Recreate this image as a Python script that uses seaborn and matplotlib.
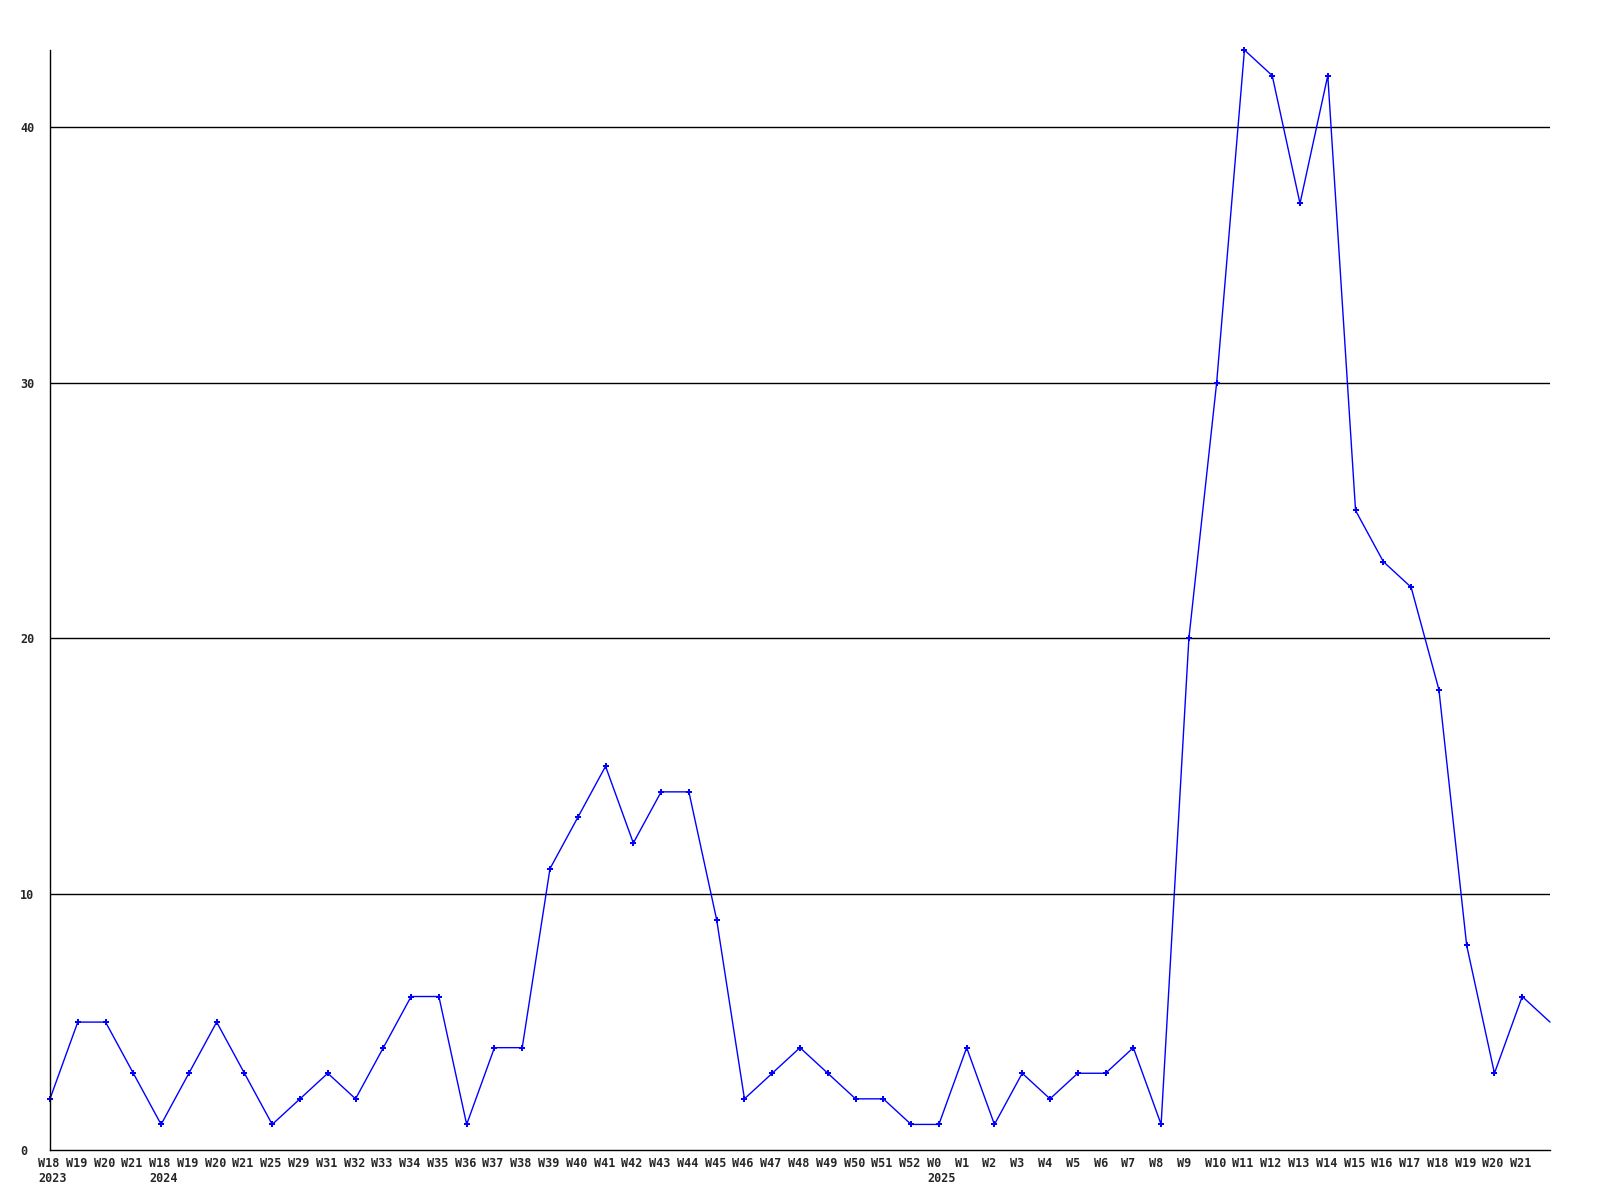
import matplotlib
matplotlib.use("Agg")
import matplotlib.pyplot as plt
import matplotlib.transforms as mtransforms
import seaborn as sns
import pandas as pd

weeks = ["W18", "W19", "W20", "W21", "W18", "W19", "W20", "W21", "W25", "W29",
         "W31", "W32", "W33", "W34", "W35", "W36", "W37", "W38", "W39", "W40",
         "W41", "W42", "W43", "W44", "W45", "W46", "W47", "W48", "W49", "W50",
         "W51", "W52", "W0", "W1", "W2", "W3", "W4", "W5", "W6", "W7",
         "W8", "W9", "W10", "W11", "W12", "W13", "W14", "W15", "W16", "W17",
         "W18", "W19", "W20", "W21", ""]
years = {0: "2023", 4: "2024", 32: "2025"}
values = [2, 5, 5, 3, 1, 3, 5, 3, 1, 2,
          3, 2, 4, 6, 6, 1, 4, 4, 11, 13,
          15, 12, 14, 14, 9, 2, 3, 4, 3, 2,
          2, 1, 1, 4, 1, 3, 2, 3, 3, 4,
          1, 20, 30, 43, 42, 37, 42, 25, 23, 22,
          18, 8, 3, 6, 5]
yticks = [0, 10, 20, 30, 40]

sns.set_theme(style="white")
plt.rcParams["font.family"] = ["DejaVu Sans Mono", "DejaVu Sans"]

df = pd.DataFrame({"idx": list(range(len(values))), "count": values})

fig = plt.figure(figsize=(16, 12), dpi=100)
ax = fig.add_axes([50 / 1600, 50 / 1200, 1500 / 1600, 1100 / 1200])

sns.lineplot(data=df, x="idx", y="count", ax=ax, color="#0000ff", linewidth=1.0,
             marker="P", markersize=4.8, markeredgewidth=0, markerfacecolor="#0000ff",
             markevery=list(range(len(values) - 1)))
for ln in ax.get_lines():
    ln.set_clip_on(False)

ax.set_xlim(0, len(values) - 1)
ax.set_ylim(0, 43)

for yv in yticks[1:]:
    ax.axhline(yv, color="black", linewidth=1.0, zorder=0)

ax.set_yticks(yticks)
ax.set_yticklabels([str(v) for v in yticks], fontsize=8.5, fontweight="bold", ha="left")
ax.tick_params(axis="y", length=0, pad=21.6)

labels = []
for i, w in enumerate(weeks[:-1]):
    labels.append(w + ("\n" + years[i] if i in years else ""))
ax.set_xticks(list(range(len(weeks) - 1)))
ax.set_xticklabels(labels, fontsize=8.5, fontweight="bold", ha="left",
                   multialignment="left", va="top")
ax.tick_params(axis="x", length=0, pad=5.0)
offset = mtransforms.ScaledTranslation(-12 / 100, 0, fig.dpi_scale_trans)
for lbl in ax.get_xticklabels():
    lbl.set_transform(lbl.get_transform() + offset)
    lbl.set_linespacing(1.25)

ax.set_xlabel("")
ax.set_ylabel("")
for side in ["top", "right"]:
    ax.spines[side].set_visible(False)
for side in ["left", "bottom"]:
    ax.spines[side].set_color("black")
    ax.spines[side].set_linewidth(1.0)
ax.grid(False)

fig.savefig("out.png", dpi=100, facecolor="white")
